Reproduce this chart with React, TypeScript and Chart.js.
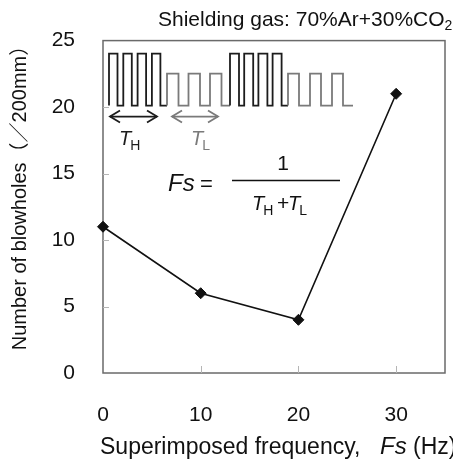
import React, { useEffect, useRef } from "react";
import { Chart, registerables } from "chart.js";

Chart.register(...registerables);

// ---- data ----
const frequencies = [0, 10, 20, 30];
const blowholes = [11, 6, 4, 21];
const xTickValues = [0, 10, 20, 30];
const yTickValues = [0, 5, 10, 15, 20, 25];
const xTitleMain = "Superimposed frequency,";
const xTitleVar = "Fs";
const xTitleUnit = "(Hz)";
const yTitle = "Number of blowholes（／200mm）";
const gasLabel = "Shielding gas: 70%Ar+30%CO";
const gasSub = "2";

const FAMILY = '"Liberation Sans", Arial, "Noto Sans CJK JP", sans-serif';
const INK = "#111111";
const GREY = "#7a7a7a";

function seg(ctx: CanvasRenderingContext2D, x1: number, y1: number, x2: number, y2: number) {
  ctx.beginPath();
  ctx.moveTo(x1, y1);
  ctx.lineTo(x2, y2);
  ctx.stroke();
}

function pulses(
  ctx: CanvasRenderingContext2D,
  x0: number, n: number, period: number, width: number,
  base: number, top: number, endX: number, color: string
) {
  ctx.strokeStyle = color;
  ctx.lineWidth = 1.8;
  ctx.beginPath();
  ctx.moveTo(x0, base);
  for (let i = 0; i < n; i++) {
    const xs = x0 + i * period;
    ctx.lineTo(xs, base);
    ctx.lineTo(xs, top);
    ctx.lineTo(xs + width, top);
    ctx.lineTo(xs + width, base);
  }
  ctx.lineTo(endX, base);
  ctx.stroke();
}

function dblArrow(ctx: CanvasRenderingContext2D, x1: number, x2: number, y: number, color: string) {
  ctx.strokeStyle = color;
  ctx.lineWidth = 1.8;
  seg(ctx, x1, y, x2, y);
  ctx.beginPath();
  ctx.moveTo(x1 + 10, y - 6);
  ctx.lineTo(x1, y);
  ctx.lineTo(x1 + 10, y + 6);
  ctx.stroke();
  ctx.beginPath();
  ctx.moveTo(x2 - 10, y - 6);
  ctx.lineTo(x2, y);
  ctx.lineTo(x2 - 10, y + 6);
  ctx.stroke();
}

function tSub(ctx: CanvasRenderingContext2D, x: number, base: number, sub: string, color: string) {
  ctx.fillStyle = color;
  ctx.font = `italic 20px ${FAMILY}`;
  ctx.fillText("T", x, base);
  const w = ctx.measureText("T").width;
  ctx.font = `14px ${FAMILY}`;
  ctx.fillText(sub, x + w - 1, base + 5);
}

const decorations = {
  id: "decorations",
  beforeDatasetsDraw(chart: any) {
    const { ctx, chartArea: a, scales } = chart;
    ctx.save();
    // frame
    ctx.strokeStyle = "#6a6a6a";
    ctx.lineWidth = 1.5;
    ctx.strokeRect(a.left, a.top, a.right - a.left, a.bottom - a.top);
    // inward tick marks
    ctx.strokeStyle = "#b5b5b5";
    ctx.lineWidth = 1;
    yTickValues.forEach((v) => {
      if (v === 0 || v === 25) return;
      const y = Math.round(scales.y.getPixelForValue(v)) + 0.5;
      seg(ctx, a.left, y, a.left + 6, y);
    });
    xTickValues.forEach((v) => {
      if (v === 0) return;
      const x = Math.round(scales.x.getPixelForValue(v)) + 0.5;
      seg(ctx, x, a.bottom, x, a.bottom - 7);
    });

    // waveform inset
    const L = a.left;
    const T = a.top;
    const base = T + 65;
    const hi = T + 13;
    const lo = T + 33;
    pulses(ctx, L + 6, 4, 14.3, 8.5, base, hi, L + 64, "#1c1c1c");
    pulses(ctx, L + 64, 3, 21.5, 11.5, base, lo, L + 127, GREY);
    pulses(ctx, L + 127, 4, 14.2, 9, base, hi, L + 185, "#1c1c1c");
    pulses(ctx, L + 185, 3, 22, 11, base, lo, L + 250, GREY);

    dblArrow(ctx, L + 7, L + 54, T + 76, "#1c1c1c");
    dblArrow(ctx, L + 69, L + 115, T + 76, GREY);

    ctx.textAlign = "left";
    ctx.textBaseline = "alphabetic";
    tSub(ctx, L + 16, T + 104, "H", "#1c1c1c");
    tSub(ctx, L + 88, T + 104, "L", GREY);

    // formula
    ctx.fillStyle = INK;
    ctx.font = `italic 24px ${FAMILY}`;
    ctx.fillText("Fs", L + 65, T + 150);
    ctx.font = `22px ${FAMILY}`;
    ctx.fillText("=", L + 97, T + 150);
    ctx.strokeStyle = INK;
    ctx.lineWidth = 1.5;
    seg(ctx, L + 129, T + 140, L + 237, T + 140);
    ctx.textAlign = "center";
    ctx.font = `21px ${FAMILY}`;
    ctx.fillText("1", L + 180, T + 129);
    ctx.textAlign = "left";
    tSub(ctx, L + 149, T + 169, "H", INK);
    ctx.fillStyle = INK;
    ctx.font = `21px ${FAMILY}`;
    ctx.fillText("+", L + 174, T + 169);
    tSub(ctx, L + 185, T + 169, "L", INK);
    ctx.restore();
  },
  afterDraw(chart: any) {
    const { ctx } = chart;
    ctx.save();
    ctx.fillStyle = INK;
    ctx.textBaseline = "alphabetic";
    ctx.textAlign = "left";
    // top label
    ctx.font = `21px ${FAMILY}`;
    ctx.fillText(gasLabel, 158, 26);
    const gw = ctx.measureText(gasLabel).width;
    ctx.font = `14px ${FAMILY}`;
    ctx.fillText(gasSub, 158 + gw, 30);
    // x title
    ctx.font = `23px ${FAMILY}`;
    ctx.fillText(xTitleMain, 100, 454);
    ctx.font = `italic 24px ${FAMILY}`;
    ctx.fillText(xTitleVar, 380, 454);
    ctx.font = `23px ${FAMILY}`;
    ctx.fillText(xTitleUnit, 413, 454);
    // y title
    ctx.translate(20, 193);
    ctx.rotate(-Math.PI / 2);
    ctx.textAlign = "center";
    ctx.textBaseline = "middle";
    ctx.font = `20px ${FAMILY}`;
    ctx.fillText(yTitle, 0, 0);
    ctx.restore();
  },
};

export default function App() {
  const ref = useRef<HTMLCanvasElement | null>(null);
  useEffect(() => {
    if (!ref.current) return;
    const chart = new Chart(ref.current, {
      type: "line",
      data: {
        datasets: [
          {
            data: frequencies.map((f, i) => ({ x: f, y: blowholes[i] })),
            borderColor: INK,
            borderWidth: 1.6,
            pointStyle: "rectRot",
            pointRadius: 5.5,
            pointBackgroundColor: INK,
            pointBorderColor: INK,
            pointBorderWidth: 1,
            tension: 0,
            clip: false,
          } as any,
        ],
      },
      options: {
        responsive: false,
        animation: false,
        layout: { padding: { top: 33, right: 8, left: 0, bottom: 0 } },
        plugins: {
          legend: { display: false },
          tooltip: { enabled: false },
          title: { display: false },
        },
        scales: {
          x: {
            type: "linear",
            min: 0,
            max: 35,
            afterBuildTicks: (s: any) => {
              s.ticks = xTickValues.map((v) => ({ value: v }));
            },
            afterFit: (s: any) => {
              s.height = 89;
            },
            grid: { display: false, drawTicks: false },
            border: { display: false },
            ticks: {
              padding: 30,
              autoSkip: false,
              maxRotation: 0,
              color: INK,
              font: { family: FAMILY, size: 21 },
            },
          },
          y: {
            type: "linear",
            min: 0,
            max: 25,
            afterBuildTicks: (s: any) => {
              s.ticks = yTickValues.map((v) => ({ value: v }));
            },
            afterFit: (s: any) => {
              s.width = 103;
            },
            grid: { display: false, drawTicks: false },
            border: { display: false },
            ticks: {
              padding: 28,
              autoSkip: false,
              color: INK,
              font: { family: FAMILY, size: 21 },
            },
          },
        },
      } as any,
      plugins: [decorations],
    });
    return () => chart.destroy();
  }, []);
  return (
    <div style={{ position: "absolute", left: 0, top: 0, width: 453, height: 462, background: "#fff" }}>
      <canvas ref={ref} width={453} height={462} style={{ display: "block" }} />
    </div>
  );
}
